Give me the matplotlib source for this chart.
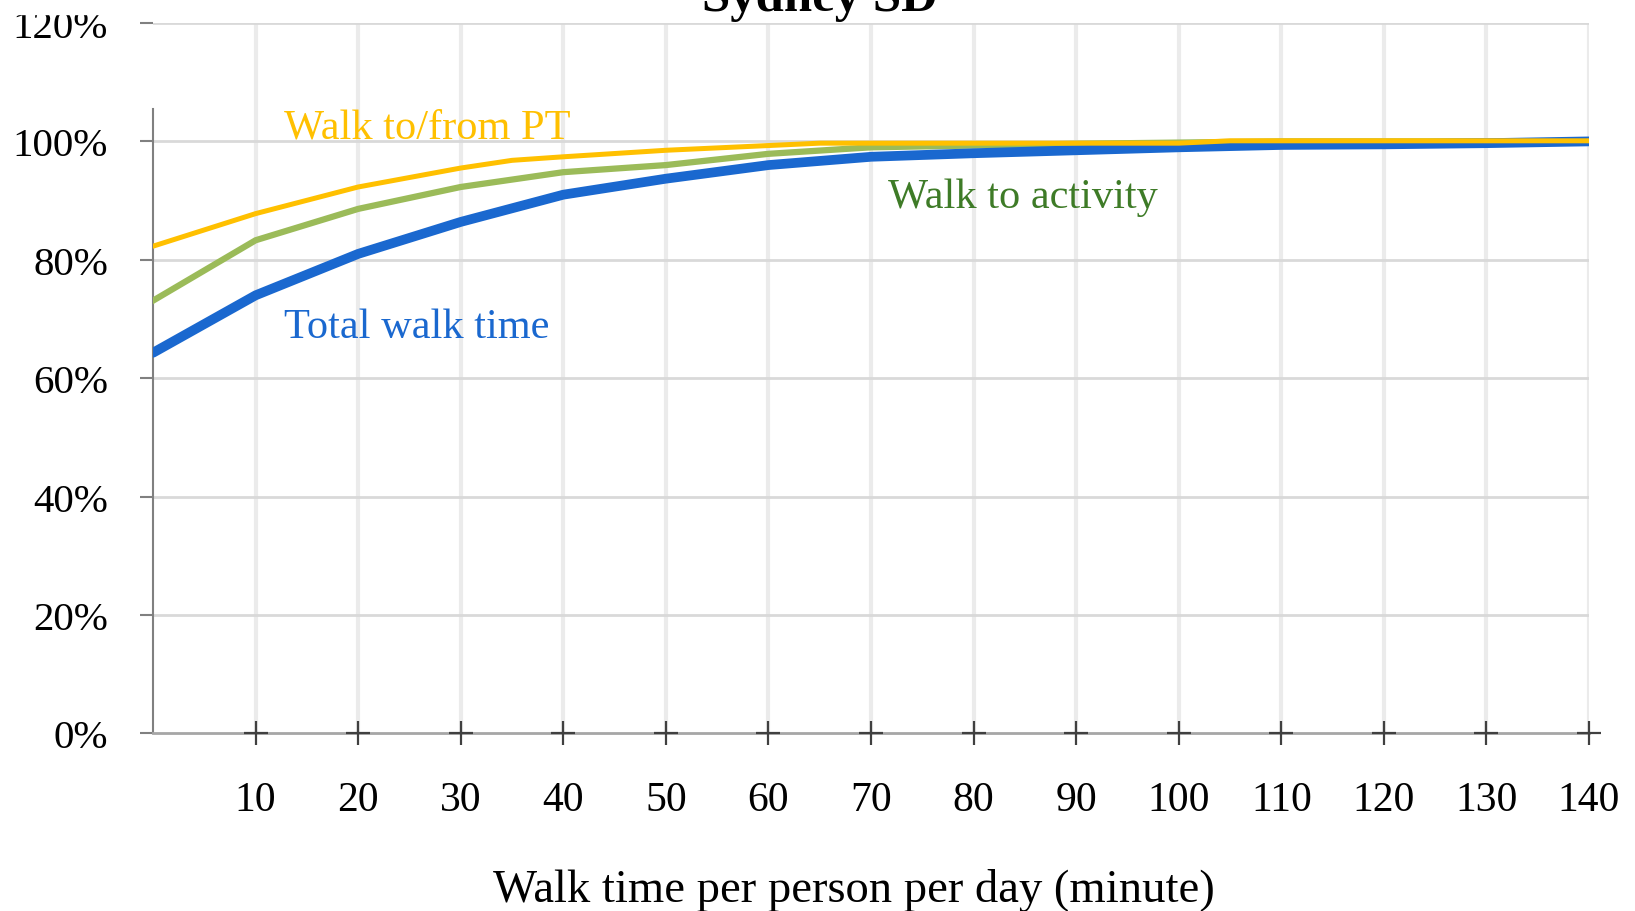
import matplotlib
matplotlib.use('Agg')
import matplotlib.pyplot as plt
from matplotlib.ticker import FuncFormatter
from matplotlib.patches import Rectangle

plt.rcParams['font.family'] = ['Liberation Serif', 'DejaVu Serif']

# walk time (minutes) and cumulative share (%)
minutes = [0, 10, 20, 30, 40, 50, 60, 70, 80, 90, 100, 110, 120, 130, 140]
total_walk = [64.3, 74.0, 81.0, 86.4, 91.0, 93.7, 96.0, 97.4, 98.0, 98.5, 99.0, 99.4, 99.5, 99.7, 100.0]
walk_activity = [73.1, 83.3, 88.6, 92.3, 94.8, 96.0, 97.9, 99.0, 99.3, 99.6, 99.8, 100.0, 100.0, 100.0, 100.0]

pt_minutes = [0, 10, 20, 30, 35, 40, 50, 60, 65, 70, 80, 90, 100, 105, 110, 120, 130, 140]
walk_pt = [82.3, 87.8, 92.3, 95.5, 96.8, 97.4, 98.5, 99.3, 99.7, 99.7, 99.7, 99.7, 99.7, 100.1, 100.1, 100.1, 100.1, 100.1]

xticks = [10, 20, 30, 40, 50, 60, 70, 80, 90, 100, 110, 120, 130, 140]
yticks = [0, 20, 40, 60, 80, 100, 120]

fig = plt.figure(figsize=(16.35, 9.12), dpi=100)
ax = fig.add_axes([0.0936, 0.1947, 0.8783, 0.779])

# gridlines
for x in xticks:
    ax.axvline(x, color='#ebebeb', lw=3.0, zorder=0)
for y in yticks[1:]:
    ax.axhline(y, color='#d9d9d9', lw=2.0, zorder=0)

ax.plot(minutes, walk_activity, color='#9bbb59', lw=4.5, zorder=3)
ax.plot(minutes, total_walk, color='#1a68cf', lw=7.0, zorder=4,
        solid_capstyle='round')
ax.plot(pt_minutes, walk_pt, color='#ffc000', lw=3.6, zorder=5)

# cross-shaped ticks on x axis
ax.plot(xticks, [0] * len(xticks), '+', ms=17, mew=1.6, color='#404040',
        clip_on=False, zorder=6)

ax.text(12.8, 100.6, 'Walk to/from PT', color='#ffc000', fontsize=30.5)
ax.text(12.8, 67.0, 'Total walk time', color='#1a68cf', fontsize=30.5)
ax.text(71.7, 88.9, 'Walk to activity', color='#3e7b27', fontsize=30.5)

ax.set_xlim(0, 140)
ax.set_ylim(0, 120)
ax.set_xticks(xticks)
ax.set_yticks(yticks)
ax.yaxis.set_major_formatter(FuncFormatter(lambda v, p: f'{v:.0f}%'))
ax.tick_params(axis='x', length=0, pad=34, labelsize=30)
ax.tick_params(axis='y', length=9.5, width=1.5, color='#808080', pad=23,
               labelsize=29.5)

for s in ['top', 'right']:
    ax.spines[s].set_visible(False)
ax.spines['left'].set_color('#808080')
ax.spines['left'].set_linewidth(1.5)
ax.spines['left'].set_bounds(0, 105.5)
ax.spines['bottom'].set_color('#a6a6a6')
ax.spines['bottom'].set_linewidth(2)

ax.set_xlabel('Walk time per person per day (minute)', fontsize=33.6)
ax.xaxis.set_label_coords(0.488, -0.19)

# title box hides the top of the 120% label, as in the source
fig.patches.append(Rectangle((18 / 1635, 1 - 15 / 912), 95 / 1635, 15 / 912,
                             transform=fig.transFigure, color='white',
                             zorder=10))
fig.text(0.5015, 0.988, 'Sydney SD', ha='center', va='baseline',
         fontsize=36.5, fontweight='bold', zorder=11)

fig.savefig('out.png', dpi=100)
